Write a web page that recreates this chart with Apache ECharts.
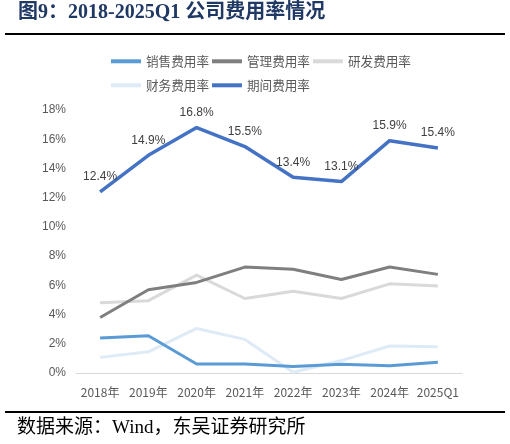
<!DOCTYPE html>
<html><head><meta charset="utf-8">
<script src="https://cdn.jsdelivr.net/npm/echarts@6/dist/echarts.min.js"></script>
<style>html,body{margin:0;padding:0;background:#fff}#c{width:510px;height:444px}</style>
</head><body><div id="c"></div>
<script>
const categories = ['2018年','2019年','2020年','2021年','2022年','2023年','2024年','2025Q1'];
const salesRate = [2.4, 2.55, 0.62, 0.62, 0.45, 0.6, 0.5, 0.73];
const mgmtRate = [3.8, 5.7, 6.2, 7.25, 7.1, 6.4, 7.25, 6.75];
const rdRate = [4.8, 4.95, 6.7, 5.1, 5.6, 5.1, 6.1, 5.95];
const finRate = [1.07, 1.45, 3.05, 2.3, 0.05, 0.85, 1.85, 1.8];
const periodRate = [12.4, 14.9, 16.8, 15.5, 13.4, 13.1, 15.9, 15.4];
const seriesNames = ['销售费用率','管理费用率','研发费用率','财务费用率','期间费用率'];

const chart = echarts.init(document.getElementById('c'), null, {renderer:'canvas'});
const mk = (name, data, color, width, z, labels) => ({
  name, type:'line', data, symbol:'circle', symbolSize:0, showSymbol:true, smooth:false, z,
  lineStyle:{color, width}, itemStyle:{color},
  label: labels ? {show:true, position:'top', distance:9, color:'#404040', fontSize:12,
    fontFamily:'Liberation Sans, Arial, sans-serif', formatter: p => p.value.toFixed(1)+'%'} : {show:false},
  emphasis:{disabled:true}, animation:false
});
const legendCommon = {
  left:106, itemWidth:30, itemHeight:4, itemGap:3, icon:'rect',
  textStyle:{color:'#595959', fontSize:12.6, fontFamily:'Noto Sans CJK SC'},
  selectedMode:false
};
chart.setOption({
  animation:false,
  backgroundColor:'#fff',
  legend:[
    Object.assign({top:50, data:seriesNames.slice(0,3)}, legendCommon),
    Object.assign({top:74, data:seriesNames.slice(3)}, legendCommon)
  ],
  grid:{left:76, right:48, top:110, bottom:71, containLabel:false},
  xAxis:{type:'category', data:categories, boundaryGap:true,
    axisLine:{lineStyle:{color:'#D9D9D9', width:1}}, axisTick:{show:false},
    axisLabel:{color:'#595959', fontSize:12, margin:13, interval:0, fontFamily:'Noto Sans CJK SC'}},
  yAxis:{type:'value', min:0, max:18, interval:2,
    axisLine:{show:false}, axisTick:{show:false}, splitLine:{show:false},
    axisLabel:{color:'#595959', fontSize:12, margin:10, formatter:'{value}%', fontFamily:'Liberation Sans, Arial, sans-serif'}},
  series:[
    mk(seriesNames[0], salesRate, '#5B9BD5', 3, 5),
    mk(seriesNames[1], mgmtRate, '#7F7F7F', 3, 4),
    mk(seriesNames[2], rdRate, '#D9D9D9', 3, 3),
    mk(seriesNames[3], finRate, '#DEEBF7', 3, 2),
    mk(seriesNames[4], periodRate, '#4472C4', 3.5, 6, true)
  ],
  graphic:[
    {type:'text', left:18, top:3, style:{text:'图9：2018-2025Q1 公司费用率情况', fill:'#1F3864',
      font:'bold 20px "Liberation Serif", "Noto Sans CJK SC", serif'}},
    {type:'rect', shape:{x:5, y:33, width:500, height:2}, style:{fill:'#000'}},
    {type:'rect', shape:{x:5, y:411, width:500, height:2}, style:{fill:'#000'}},
    {type:'text', left:17, top:419, style:{text:'数据来源：Wind，东吴证券研究所', fill:'#000',
      font:'19px "Liberation Serif", "Noto Sans CJK SC", serif'}}
  ]
});
</script></body></html>
